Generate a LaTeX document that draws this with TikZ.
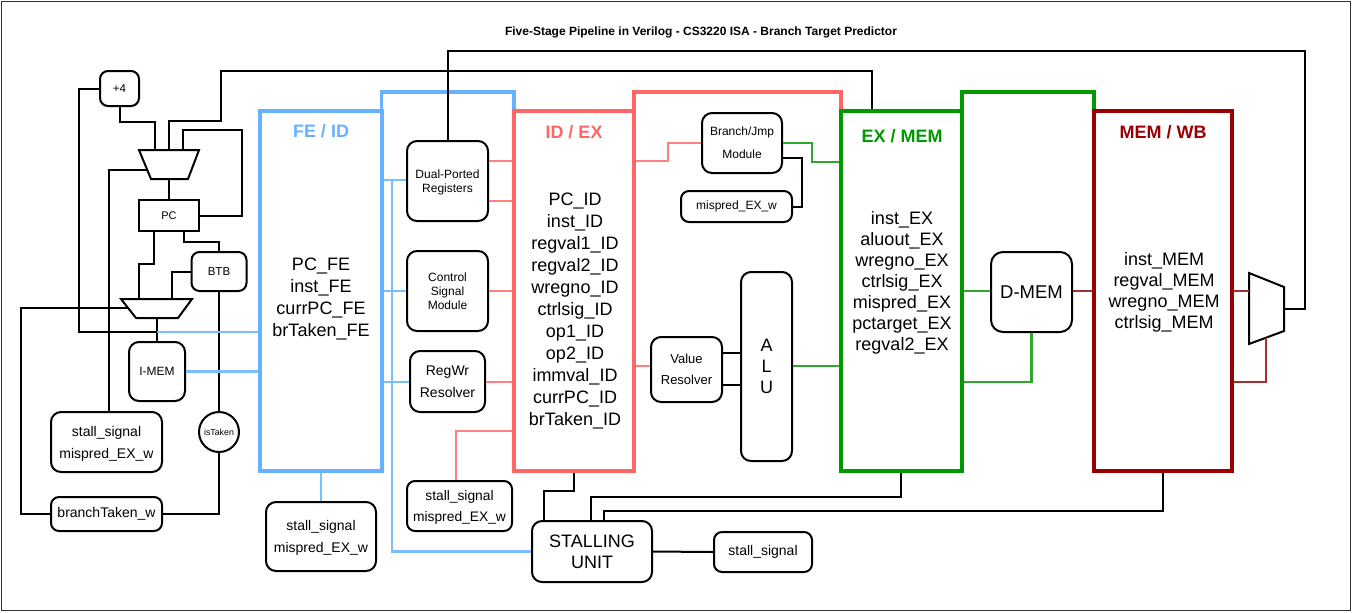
\documentclass[tikz,border=0pt]{standalone}
\usepackage{fontspec}
\setmainfont{Liberation Sans}
\definecolor{cblue}{HTML}{66B2FF}
\definecolor{cred}{HTML}{FF6666}
\definecolor{cgreen}{HTML}{009900}
\definecolor{cdred}{HTML}{990000}
\definecolor{lblue}{HTML}{7DBDFF}
\definecolor{lred}{HTML}{FF8080}
\definecolor{lgreen}{HTML}{2EA82E}
\definecolor{ldred}{HTML}{A82E2E}
\newcommand\myfs[2]{\fontsize{#1}{#2}\selectfont}
\begin{document}
\begin{tikzpicture}[x=0.5pt,y=-0.5pt,
 wire/.style={line width=1pt},
 bwire/.style={line width=1.05pt, draw=lblue},
 rwire/.style={line width=1.05pt, draw=lred},
 gwire/.style={line width=1.05pt, draw=lgreen},
 dwire/.style={line width=1.05pt, draw=ldred},
 box/.style={draw, line width=1pt, rounded corners=5pt, inner sep=0pt, align=center},
 sbox/.style={draw, line width=1pt, inner sep=0pt, align=center},
 pipereg/.style={line width=1.7pt, inner sep=0pt, minimum height=180pt},
 bracket/.style={line width=1.7pt},
 head/.style={font=\bfseries\myfs{9}{10}},
 regtext/.style={align=center},
 muxshape/.style={draw, line width=1pt, line join=miter},
]
\useasboundingbox (0,0) rectangle (1352,612);
\draw[line width=0.75pt, draw=black!80] (1.5,1.5) rectangle (1350.5,610.5);

\node[font=\bfseries\myfs{6}{7}] (title) at (701,32) {Five-Stage Pipeline in Verilog - CS3220 ISA - Branch Target Predictor};

% stage brackets
\draw[bracket, cblue] (381.5,471) -- (381.5,92) -- (514,92) -- (514,112);
\draw[bracket, cred] (634,471) -- (634,92) -- (841,92) -- (841,112);
\draw[bracket, cgreen] (962,471) -- (962,92) -- (1094,92) -- (1094,112);

% pipeline registers
\node[pipereg, draw=cblue, minimum width=61pt] (feid) at (321,291) {};
\node[pipereg, draw=cred, minimum width=60pt] (idex) at (574,291) {};
\node[pipereg, draw=cgreen, minimum width=60.5pt] (exmem) at (901.5,291) {};
\node[pipereg, draw=cdred, minimum width=69pt] (memwb) at (1163,291) {};

\node[head, text=cblue] (hfeid) at (321,131) {FE / ID};
\node[head, text=cred] (hidex) at (574,132) {ID / EX};
\node[head, text=cgreen] (hexmem) at (902,136) {EX / MEM};
\node[head, text=cdred] (hmemwb) at (1163,132) {MEM / WB};

\node[regtext, font=\myfs{9}{11}] (tfeid) at (321,299) {PC\_FE\\inst\_FE\\currPC\_FE\\brTaken\_FE};
\node[regtext, font=\myfs{9}{11}] (tidex) at (575,311) {PC\_ID\\inst\_ID\\regval1\_ID\\regval2\_ID\\wregno\_ID\\ctrlsig\_ID\\op1\_ID\\op2\_ID\\immval\_ID\\currPC\_ID\\brTaken\_ID};
\node[regtext, font=\myfs{9}{10.5}] (texmem) at (902,283) {inst\_EX\\aluout\_EX\\wregno\_EX\\ctrlsig\_EX\\mispred\_EX\\pctarget\_EX\\regval2\_EX};
\node[regtext, font=\myfs{9}{10.5}] (tmemwb) at (1164,292) {inst\_MEM\\regval\_MEM\\wregno\_MEM\\ctrlsig\_MEM};

% fetch stage
\node[box, rounded corners=4pt, minimum width=19.5pt, minimum height=17.5pt, font=\myfs{5.75}{7}] (plus4) at (119.5,88.5) {+4};
\node[sbox, minimum width=30pt, minimum height=15.5pt, font=\myfs{5.5}{7}] (pc) at (169,215.5) {PC};
\node[box, rounded corners=4pt, minimum width=27.5pt, minimum height=19.5pt, font=\myfs{5.75}{7}] (btb) at (219,271.5) {BTB};
\node[box, minimum width=28pt, minimum height=29.5pt, font=\myfs{6}{7}] (imem) at (157,371.5) {I-MEM};
\node[draw, circle, line width=1pt, minimum size=20pt, inner sep=0pt, font=\myfs{4.4}{5}] (istaken) at (219,432) {isTaken};
\node[box, minimum width=55.5pt, minimum height=30pt, font=\myfs{7}{11}, text depth=-2.5pt] (lstall) at (106.5,442) {stall\_signal\\mispred\_EX\_w};
\node[box, rounded corners=4pt, minimum width=55.5pt, minimum height=17pt, font=\myfs{7}{8}] (btw) at (106.5,514) {branchTaken\_w};
\node[box, minimum width=55pt, minimum height=34.5pt, font=\myfs{7}{11}, text depth=-2.5pt] (fstall) at (321,536.5) {stall\_signal\\mispred\_EX\_w};

% muxes
\draw[muxshape] (139,150) -- (199,150) -- (188,179) -- (151,179) -- cycle;
\coordinate (m1a) at (155,150);
\coordinate (m1b) at (169,150);
\coordinate (m1c) at (183,150);
\coordinate (m1s) at (147.3,170);
\coordinate (m1o) at (169,179);
\draw[muxshape] (121,299) -- (192,299) -- (178,318) -- (136,318) -- cycle;
\coordinate (m2a) at (139,299);
\coordinate (m2b) at (172,299);
\coordinate (m2s) at (128.1,308);
\coordinate (m2o) at (157,318);
\draw[muxshape] (1249,273) -- (1284,287) -- (1284,331) -- (1249,344) -- cycle;
\coordinate (wbi) at (1249,291);
\coordinate (wbs) at (1266,337.7);
\coordinate (wbo) at (1284,309);
\coordinate (j1) at (157,332);
\coordinate (j2) at (392,180);

% decode stage
\node[box, minimum width=40.5pt, minimum height=40pt, font=\myfs{6}{7}, text depth=-1.7pt] (dpr) at (447.5,181) {Dual-Ported\\Registers};
\node[box, minimum width=40.5pt, minimum height=40pt, font=\myfs{6}{7}] (csm) at (447.5,291) {Control\\Signal\\Module};
\node[box, minimum width=37.5pt, minimum height=30.5pt, font=\myfs{7}{11}, text depth=-3.5pt] (rwr) at (447.5,381.5) {RegWr\\Resolver};
\node[box, rounded corners=4pt, minimum width=52.5pt, minimum height=25pt, font=\myfs{6.9}{10.5}, text depth=-3.5pt] (idstall) at (459.5,506) {stall\_signal\\mispred\_EX\_w};
\node[box, minimum width=60pt, minimum height=30.5pt, font=\myfs{9}{10.5}] (stall) at (592,551.5) {STALLING\\UNIT};
\node[box, rounded corners=4pt, minimum width=49pt, minimum height=20pt, font=\myfs{7}{8}] (stallsig) at (763,552) {stall\_signal};

% execute stage
\node[box, minimum width=40pt, minimum height=30pt, font=\myfs{6}{11.5}, text depth=-4pt] (bjm) at (742,143) {Branch/Jmp\\Module};
\node[box, rounded corners=4pt, minimum width=55.5pt, minimum height=15.5pt, font=\myfs{6}{7}] (mispred) at (736.5,206.5) {mispred\_EX\_w};
\node[box, minimum width=35.5pt, minimum height=32.5pt, font=\myfs{6.5}{10.5}, text depth=-4pt] (vr) at (686.5,369.5) {Value\\Resolver};
\node[box, minimum width=25.5pt, minimum height=94.5pt, font=\myfs{9}{10.5}] (alu) at (766.5,366.5) {A\\L\\U};
% memory stage
\node[box, rounded corners=6pt, minimum width=40.5pt, minimum height=40pt, font=\myfs{9.25}{10}] (dmem) at (1031.5,292) {D-MEM};

% ---- black wires
\draw[wire] (dpr.north) |- (1305,51) |- (wbo);
\draw[wire] (m1b) -- (169,121) -- (221,121) -- (221,71) -- (872,71) -- (exmem.north -| 872,0);
\draw[wire] (plus4.west) -| (79,332) -- (j1);
\draw[wire] (plus4.south) |- (155,122) -- (m1a);
\draw[wire] (pc.east) -| (242,130) -| (m1c);
\draw[wire] (lstall.north -| 109,0) -- (109,170) -- (m1s);
\draw[wire] (m1o) -- (pc.north);
\draw[wire] (pc.south -| 154,0) -- (154,264) -- (139,264) -- (m2a);
\draw[wire] (pc.south -| 184,0) -- (184,242) -- (219,242) -- (btb.north);
\draw[wire] (btb.west) -| (m2b);
\draw[wire] (btb.south) -- (istaken.north);
\draw[wire] (istaken.south) |- (btw.east);
\draw[wire] (btw.west) -| (21,308) -- (m2s);
\draw[wire] (m2o) -- (imem.north);
\draw[wire] (idex.south) -- (574,491) -- (544,491) -- (stall.north -| 544,0);
\draw[wire] (exmem.south -| 901,0) -- (901,497) -- (591,497) -- (stall.north -| 591,0);
\draw[wire] (memwb.south) -- (1163,511) -- (604,511) -- (stall.north -| 604,0);
\draw[wire] (stall.east) -- (stallsig.west);
\draw[wire] (bjm.east |- 0,158) -- (802,158) -- (802,206.5) -- (mispred.east);
\draw[wire] (vr.east |- 0,353) -- (alu.west |- 0,353);
\draw[wire] (vr.east |- 0,385) -- (alu.west |- 0,385);

% ---- blue wires
\draw[bwire] (j1) -- (feid.west |- 0,332);
\draw[bwire] (imem.east) -- (feid.west |- imem.east);
\draw[bwire] (feid.south) -- (fstall.north);
\draw[bwire] (feid.east |- 0,180) -- (dpr.west |- 0,180);
\draw[bwire] (feid.east |- 0,291) -- (csm.west);
\draw[bwire] (feid.east |- 0,382) -- (rwr.west |- 0,382);
\draw[bwire] (j2) |- (stall.west);

% ---- red wires
\draw[rwire] (dpr.east |- 0,161) -- (idex.west |- 0,161);
\draw[rwire] (dpr.east |- 0,201) -- (idex.west |- 0,201);
\draw[rwire] (csm.east) -- (idex.west |- csm.east);
\draw[rwire] (rwr.east |- 0,382) -- (idex.west |- 0,382);
\draw[rwire] (idex.west |- 0,431) -- (456,431) -- (idstall.north -| 456,0);
\draw[rwire] (idex.east |- 0,161) -- (668,161) -- (668,143) -- (bjm.west);
\draw[rwire] (idex.east |- 0,366) -- (vr.west |- 0,366);

% ---- green wires
\draw[gwire] (bjm.east) -- (812,143) -- (812,162) -- (exmem.west |- 0,162);
\draw[gwire] (alu.east |- 0,366) -- (exmem.west |- 0,366);
\draw[gwire] (exmem.east |- 0,291) -- (dmem.west |- 0,291);
\draw[gwire] (dmem.south) |- (exmem.east |- 0,382);

% ---- dark red wires
\draw[dwire] (dmem.east |- 0,291) -- (memwb.west |- 0,291);
\draw[dwire] (memwb.east |- 0,291) -- (wbi);
\draw[dwire] (memwb.east |- 0,382) -- (1266,382) -- (wbs);
\end{tikzpicture}
\end{document}
